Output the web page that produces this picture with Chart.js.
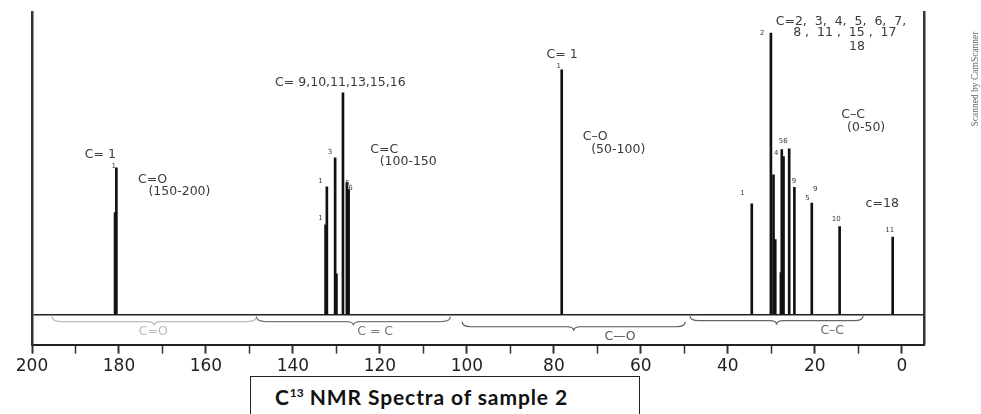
<!DOCTYPE html>
<html>
<head>
<meta charset="utf-8">
<script src="https://cdn.jsdelivr.net/npm/chart.js@4.4.0/dist/chart.umd.min.js"></script>
<style>
body { margin: 0; background: #fff; }
#wrap { position: relative; width: 981px; height: 414px; overflow: hidden; }
#caption {
    position: absolute; left: 250px; top: 376px; width: 390px; height: 60px;
    box-sizing: border-box; border: 1.5px solid #222; background: #fff;
    font-family: Lato, "Open Sans", sans-serif; font-weight: bold; font-size: 21px;
    letter-spacing: 0.9px; color: #111; padding: 7px 0 0 24px; white-space: nowrap;
}
#caption sup { font-size: 12px; vertical-align: 8px; line-height: 0; letter-spacing: 0; }
</style>
</head>
<body>
<div id="wrap">
    <canvas id="nmr"></canvas>
    <div id="caption">C<sup>13</sup> NMR Spectra of sample 2</div>
</div>
<script>
// chemical shift (ppm) of every line in the stick spectrum
const shifts = [180.6, 180.9, 132.2, 132.5, 130.3, 130.0, 128.5, 127.6, 127.2, 78.2,
                34.5, 30.1, 29.5, 29.1, 27.6, 27.8, 27.2, 25.9, 24.7, 20.7, 14.3, 2.1];
// relative height of each line (0 = baseline, 100 = top of frame)
const heights = [48.5, 33.7, 42.2, 29.7, 51.8, 13.5, 73.3, 43.6, 41.3, 80.9,
                 36.6, 93.0, 46.2, 24.8, 54.5, 13.9, 52.2, 54.8, 42.1, 36.9, 29.1, 25.6];
// ppm axis ticks
const tickValues = [0, 10, 20, 30, 40, 50, 60, 70, 80, 90, 100,
                    110, 120, 130, 140, 150, 160, 170, 180, 190, 200];

// handwritten notes on the spectrum (anchored at ppm / height)
const groupNotes = ["C= 1", "C=O", "(150-200)", "C= 9,10,11,13,15,16", "C=C", "(100-150",
                    "C= 1", "C\u2013O", "(50-100)", "C=2,  3,  4,  5,  6,  7,", "8 ,  11 ,  15 ,  17",
                    "18", "C\u2013C", "(0-50)", "c=18"];
const groupShift = [184.3, 172.3, 166.1, 129.1, 119.0, 113.5, 78.1, 70.5, 65.2, 14.0, 13.1,
                    10.3, 11.2, 8.2, 4.5];
const groupHeight = [52.8, 44.6, 40.7, 76.6, 54.5, 50.6, 85.8, 58.8, 54.5, 96.8, 93.0,
                     88.6, 66.0, 61.6, 36.6];

// small peak numbers
const peakNotes = ["1", "1", "1", "3", "5", "6", "1", "1", "2", "4", "56", "9", "5", "9", "10", "11"];
const peakShift = [180.5, 133.0, 133.0, 130.8, 126.8, 126.1, 78.2, 36.0, 31.4, 28.2, 26.6,
                   24.1, 21.0, 19.2, 14.4, 2.1];
const peakHeight = [49.0, 44.0, 32.0, 53.6, 43.5, 41.9, 82.0, 40.2, 93.0, 53.5, 57.2,
                    44.0, 38.6, 41.6, 31.4, 28.0];

// region braces under the baseline
const regionNames = ["C=O", "C = C", "C\u2014O", "C\u2013C"];
const regionFrom = [195.4, 148.4, 101.1, 48.7];
const regionTo = [148.4, 103.8, 49.8, 8.9];

const spectrum = [];
for (let i = 0; i < shifts.length; i++) {
    spectrum.push({x: shifts[i], y: heights[i]});
}

function brace(ctx, x1, x2, y, dip) {
    var mid = (x1 + x2) / 2;
    ctx.beginPath();
    ctx.moveTo(x1, y - 5);
    ctx.quadraticCurveTo(x1, y, x1 + 9, y);
    ctx.lineTo(mid - 7, y);
    ctx.quadraticCurveTo(mid, y, mid, y + dip);
    ctx.quadraticCurveTo(mid, y, mid + 7, y);
    ctx.lineTo(x2 - 9, y);
    ctx.quadraticCurveTo(x2, y, x2, y - 5);
    ctx.stroke();
}

const handNotes = {
    id: "handNotes",
    afterDatasetsDraw(chart) {
        const ctx = chart.ctx, xs = chart.scales.x, ys = chart.scales.y;
        ctx.save();
        ctx.textAlign = "center";
        ctx.textBaseline = "middle";

        //notes above the baseline
        ctx.fillStyle = "#3a3a3a";
        ctx.font = "12.5px 'DejaVu Sans'";
        for (let i = 0; i < groupNotes.length; i++) {
            ctx.fillText(groupNotes[i], xs.getPixelForValue(groupShift[i]), ys.getPixelForValue(groupHeight[i]));
        }
        ctx.font = "7px 'DejaVu Sans'";
        for (let i = 0; i < peakNotes.length; i++) {
            ctx.fillText(peakNotes[i], xs.getPixelForValue(peakShift[i]) - 3, ys.getPixelForValue(peakHeight[i]));
        }

        //braces and names below the baseline
        const braceGray = ["#bbb", "#777", "#555", "#666"];
        const braceLevel = [-2.3, -2.3, -4.0, -2.0];
        const nameLevel = [-5.6, -5.6, -7.3, -5.3];
        ctx.lineWidth = 1.2;
        for (let i = 0; i < regionNames.length; i++) {
            const x1 = xs.getPixelForValue(regionFrom[i]), x2 = xs.getPixelForValue(regionTo[i]);
            ctx.strokeStyle = braceGray[i];
            brace(ctx, x1, x2, ys.getPixelForValue(braceLevel[i]), 4);
        }
        const nameShift = [172.1, 121.1, 64.8, 16.0];
        ctx.font = "12.5px 'DejaVu Sans'";
        for (let i = 0; i < regionNames.length; i++) {
            ctx.fillStyle = braceGray[i];
            ctx.fillText(regionNames[i], xs.getPixelForValue(nameShift[i]), ys.getPixelForValue(nameLevel[i]));
        }

        //scanner stamp at the right edge
        ctx.translate(975, 79);
        ctx.rotate(-Math.PI / 2);
        ctx.fillStyle = "#666";
        ctx.font = "9.5px 'Liberation Serif'";
        ctx.fillText("Scanned by CamScanner", 0, 0);
        ctx.restore();
    }
};

var config = {
    type: "bar",
    data: {
        datasets: [{
            data: spectrum,
            backgroundColor: "#111",
            borderWidth: 0,
            barThickness: 2
        }]
    },
    options: {
        responsive: true,
        maintainAspectRatio: false,
        animation: false,
        layout: {
            padding: {left: 32, right: 57, top: 12, bottom: 34}
        },
        plugins: {
            legend: {display: false},
            tooltip: {enabled: false}
        },
        scales: {
            x: {
                type: "linear",
                reverse: true,
                min: -5.1,
                max: 200,
                offset: false,
                afterBuildTicks: function(scale) {
                    scale.ticks = tickValues.map(v => ({value: v}));
                },
                ticks: {
                    autoSkip: false,
                    maxRotation: 0,
                    padding: 3,
                    color: "#222",
                    font: {family: "'DejaVu Sans'", size: 17},
                    callback: v => (v % 20 === 0 ? v : "")
                },
                grid: {
                    offset: false,
                    drawOnChartArea: false,
                    drawTicks: true,
                    tickLength: 9,
                    tickColor: "#333",
                    tickWidth: ctx => (ctx.tick && ctx.tick.value % 20 === 0 ? 2 : 1.5)
                },
                border: {display: true, color: "#222", width: 2}
            },
            y: {
                min: -9.9,
                max: 100,
                afterBuildTicks: function(scale) {
                    scale.ticks = [{value: 0}];
                },
                ticks: {display: false},
                grid: {
                    drawTicks: false,
                    color: "#222",
                    lineWidth: 1.5
                },
                border: {display: true, color: "#333", width: 2.5}
            },
            y2: {
                position: "right",
                min: 0,
                max: 1,
                ticks: {display: false},
                grid: {display: false, drawTicks: false},
                border: {display: true, color: "#333", width: 2.5}
            }
        }
    },
    plugins: [handNotes]
};

new Chart(document.getElementById("nmr"), config);
</script>
</body>
</html>
